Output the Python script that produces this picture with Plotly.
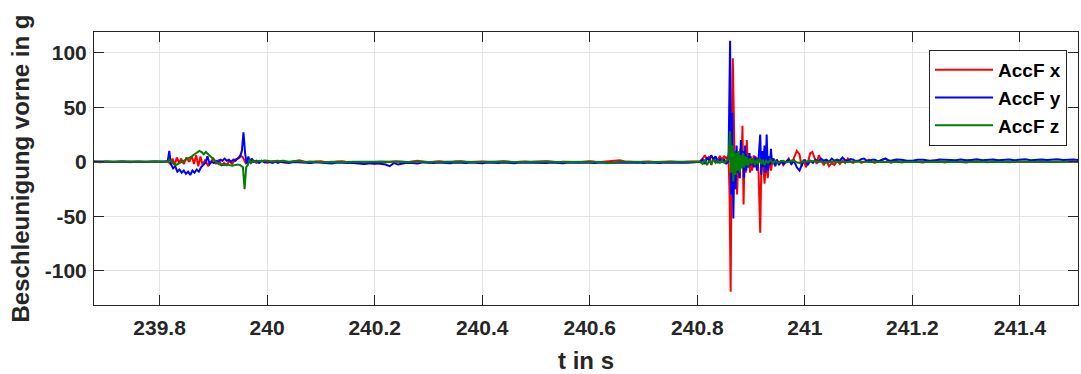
import plotly.graph_objects as go

# (time in s, acceleration in g) samples
ACC_X = [
    (239.678, 0.2), (239.69, -0.3), (239.70, 0.3), (239.715, -0.2), (239.73, 0.3), (239.745, -0.3),
    (239.76, 0.3), (239.775, -0.2), (239.79, 0.3), (239.805, -0.2), (239.815, 0.5),
    (239.820, -2), (239.824, 3), (239.828, -3), (239.832, 4), (239.836, -1), (239.840, 3),
    (239.845, -2), (239.850, 4), (239.855, 0), (239.860, 5), (239.864, -2), (239.868, 6),
    (239.872, -4), (239.876, 5), (239.880, -3), (239.885, 2), (239.890, -4), (239.895, 0),
    (239.900, 3), (239.905, -2), (239.910, 2), (239.915, -3), (239.920, -1), (239.925, -3),
    (239.930, 1), (239.935, -2), (239.940, 2), (239.945, 3), (239.950, 6), (239.955, 4),
    (239.960, -1), (239.965, 2), (239.970, -1), (239.975, 1), (239.980, -1), (239.990, 1),
    (240.00, -1), (240.01, 0.5), (240.02, 1), (240.03, -0.5), (240.04, -0.5), (240.05, 0.5),
    (240.06, 1.5), (240.07, 0.2), (240.08, -1), (240.09, 0.3), (240.10, 0.5), (240.11, -0.3),
    (240.12, -0.5), (240.13, 0.3), (240.14, 0.5), (240.15, -0.4), (240.16, -1), (240.17, -0.6),
    (240.18, -1.5), (240.19, -1.0), (240.20, -2), (240.21, -0.8), (240.22, -0.5), (240.23, 0.3),
    (240.24, 0.5), (240.25, -0.2), (240.26, -0.5), (240.27, 0.4), (240.28, 1), (240.29, 0.2),
    (240.30, -0.5), (240.31, 0.2), (240.32, 0.5), (240.33, -0.2), (240.34, -0.5), (240.35, 0.3),
    (240.36, 0.5), (240.37, -0.2), (240.38, -0.3), (240.39, 0.2), (240.40, 0.3), (240.41, -0.2),
    (240.42, -0.4), (240.43, 0.2), (240.44, 0.5), (240.45, 0.1), (240.46, -0.3), (240.47, 0.2),
    (240.48, 0.4), (240.49, -0.1), (240.50, -0.2), (240.51, 0.3), (240.52, 0.5), (240.53, -0.1),
    (240.54, -0.4), (240.55, 0.1), (240.56, 0.3), (240.57, -0.1), (240.58, -0.3), (240.59, 0.2),
    (240.60, 0.5), (240.61, 0.0), (240.62, -0.2), (240.63, 0.3), (240.64, 0.6), (240.656, 1.5),
    (240.665, 0.4), (240.675, 0.2), (240.69, -0.3), (240.70, 0.2), (240.71, 0.4), (240.72, -0.1),
    (240.73, -0.2), (240.74, 0.2), (240.75, 0.3), (240.76, -0.1), (240.77, -0.3), (240.78, 0.1),
    (240.79, 0.2), (240.800, 0),
    (240.805, 0.5), (240.810, 3), (240.814, 6), (240.818, 2), (240.822, 5), (240.826, -3),
    (240.830, 4), (240.834, 0), (240.838, 3), (240.842, 5), (240.846, 2), (240.850, 5),
    (240.854, 3), (240.858, 6), (240.860, -30), (240.862, -119), (240.864, 20), (240.866, 95),
    (240.868, 40), (240.870, -20), (240.872, 10), (240.874, -30), (240.876, 5), (240.878, -15),
    (240.880, 12), (240.882, -5), (240.884, 33), (240.886, -39), (240.888, 10), (240.890, -10),
    (240.892, 20), (240.894, -5), (240.896, 8), (240.898, -10), (240.900, 5), (240.902, -8),
    (240.905, 6), (240.908, -5), (240.911, 4), (240.914, -10), (240.917, -65), (240.919, -5),
    (240.922, 3), (240.925, -20), (240.928, 2), (240.931, -15), (240.934, 5), (240.937, -8),
    (240.940, 3), (240.944, -3), (240.948, 2), (240.952, -2), (240.956, 1), (240.960, -3),
    (240.965, 0), (240.970, 3), (240.975, -2), (240.980, 4), (240.985, 10), (240.990, 7),
    (240.994, -4), (240.998, 2), (241.002, -5), (241.006, 0), (241.010, 8), (241.014, 9),
    (241.018, 3), (241.022, -2), (241.026, 6), (241.030, 2), (241.035, -3), (241.040, 1),
    (241.045, -4), (241.050, -1), (241.055, -3), (241.060, 1), (241.065, -2), (241.070, 1),
    (241.075, -1), (241.080, 3), (241.085, 0), (241.090, -1), (241.095, 1), (241.100, 1),
    (241.105, -1), (241.110, 0), (241.115, 1), (241.120, 2), (241.125, 0), (241.130, -1),
    (241.135, 0.5), (241.140, 1), (241.145, 2), (241.150, 3), (241.155, 1), (241.160, -1),
    (241.165, 0), (241.170, 1), (241.175, 0), (241.180, -0.5), (241.19, 0.4), (241.200, 0.5),
    (241.21, -0.2), (241.220, -0.5), (241.23, 0.5), (241.240, 1.5), (241.25, 0.3), (241.260, -0.5),
    (241.27, 0.2), (241.280, 0.5), (241.29, -0.1), (241.300, -0.5), (241.31, 0.2), (241.320, 0.5),
    (241.33, 0.0), (241.340, -0.3), (241.35, 0.2), (241.360, 0.5), (241.37, 0.0), (241.380, -0.3),
    (241.39, 0.2), (241.400, 0.4), (241.41, 0.0), (241.420, -0.2), (241.43, 0.2), (241.440, 0.3),
    (241.45, 0.0), (241.460, 0), (241.47, 0.3), (241.480, 0.3), (241.495, 0.0), (241.510, 0),
]

ACC_Y = [
    (239.678, 0.3), (239.69, 0.1), (239.70, 0.4), (239.715, 0.0), (239.73, 0.3), (239.745, 0.1),
    (239.76, 0.4), (239.775, 0.0), (239.79, 0.3), (239.805, 0.1), (239.815, 0.5),
    (239.818, 10), (239.821, -2), (239.825, -6), (239.829, -4), (239.833, -9), (239.837, -7),
    (239.841, -10), (239.845, -8), (239.849, -11), (239.853, -9), (239.857, -12), (239.861, -8),
    (239.865, -10), (239.869, -7), (239.873, -9), (239.877, -5), (239.881, -3), (239.885, -1),
    (239.889, 5), (239.893, -2), (239.897, 0), (239.901, -1), (239.905, 1), (239.909, 0),
    (239.913, 2), (239.917, 1), (239.921, 3), (239.925, 1), (239.929, 2), (239.933, 0),
    (239.937, 2), (239.941, 1), (239.945, 3), (239.949, 4), (239.953, 10), (239.956, 27),
    (239.959, 8), (239.962, -2), (239.965, 5), (239.968, -1), (239.971, 3), (239.975, 0),
    (239.980, 1), (239.985, -1), (239.990, 1), (239.995, -0.5), (240.000, 0.5), (240.005, -0.5),
    (240.010, -1), (240.015, 0.2), (240.020, -1), (240.025, 0.3), (240.030, 0), (240.035, -0.6),
    (240.040, -1), (240.05, -0.2), (240.06, -0.5), (240.07, -1.2), (240.08, -1), (240.09, -0.3),
    (240.10, -0.5), (240.11, -1.2), (240.12, -1.5), (240.13, -0.6), (240.14, -0.5), (240.15, -1.0),
    (240.16, -1), (240.17, -1.6), (240.18, -2), (240.19, -1.2), (240.20, -1), (240.21, -1.8),
    (240.22, -2.5), (240.228, -4), (240.236, -1), (240.243, -2.5), (240.25, -2), (240.26, -0.8),
    (240.27, -1), (240.28, -1.5), (240.29, -0.5), (240.30, -0.8), (240.31, -1), (240.32, -0.5),
    (240.33, -0.9), (240.34, -1.2), (240.35, -0.6), (240.36, -0.8), (240.37, -1.1), (240.38, -0.5),
    (240.39, -0.9), (240.40, -1.2), (240.41, -0.7), (240.42, -0.9), (240.43, -1.1), (240.44, -0.6),
    (240.45, -0.9), (240.46, -1.2), (240.47, -0.6), (240.48, -0.8), (240.49, -1.0), (240.50, -0.6),
    (240.51, -0.9), (240.52, -1.1), (240.53, -0.7), (240.54, -0.9), (240.55, -1.2), (240.56, -0.6),
    (240.57, -0.8), (240.58, -1.1), (240.59, -0.7), (240.60, -0.9), (240.61, -1.0), (240.62, -0.6),
    (240.63, -0.9), (240.64, -1.2), (240.65, -0.8), (240.66, -0.6), (240.67, -1.0), (240.68, -0.8),
    (240.69, -0.6), (240.70, -1.0), (240.71, -0.7), (240.72, -0.9), (240.73, -1.1), (240.74, -0.6),
    (240.75, -0.8), (240.76, -1.0), (240.77, -0.7), (240.78, -0.9), (240.79, -0.6), (240.800, 0),
    (240.805, 0), (240.810, 2), (240.814, -2), (240.818, 4), (240.822, 1), (240.826, 6),
    (240.830, 2), (240.834, 5), (240.838, -1), (240.842, 3), (240.846, 0), (240.850, 2),
    (240.854, -2), (240.858, 1), (240.861, 111), (240.863, -30), (240.865, 45), (240.867, -52),
    (240.869, 10), (240.871, -25), (240.873, 15), (240.875, -10), (240.877, 5), (240.879, -15),
    (240.881, 20), (240.883, -5), (240.885, 10), (240.887, -15), (240.889, 15), (240.891, -8),
    (240.893, 5), (240.895, -5), (240.897, 8), (240.899, -3), (240.902, 2), (240.905, -5),
    (240.908, 5), (240.911, -8), (240.914, 3), (240.917, 25), (240.919, -12), (240.921, 10),
    (240.923, -5), (240.925, 15), (240.927, -10), (240.929, 25), (240.931, -8), (240.933, 5),
    (240.935, -3), (240.937, 12), (240.939, -2), (240.942, 3), (240.945, -4), (240.948, 2),
    (240.952, -3), (240.956, 1), (240.960, -2), (240.965, 0), (240.970, 2), (240.975, -2),
    (240.980, 1), (240.985, -5), (240.990, -8), (240.995, -2), (241.000, 2), (241.005, -3),
    (241.010, 1), (241.015, -1), (241.020, 2), (241.025, 0), (241.030, 3), (241.035, 1),
    (241.040, 2), (241.045, 0), (241.050, 3), (241.055, 1), (241.060, 2), (241.065, 1),
    (241.070, 4), (241.075, 1.5), (241.080, 1), (241.085, 2.5), (241.090, 2), (241.095, 0.5),
    (241.100, 1), (241.105, 2.5), (241.110, 3), (241.115, 1), (241.120, 1), (241.125, 2),
    (241.130, 2), (241.135, 0.8), (241.140, 1), (241.145, 2.2), (241.150, 3), (241.155, 1.5),
    (241.160, 1), (241.17, 2.2), (241.180, 2), (241.19, 1.0), (241.200, 1), (241.21, 2.0),
    (241.220, 2), (241.23, 1.2), (241.240, 1), (241.25, 2.2), (241.260, 2), (241.27, 1.2),
    (241.280, 1.5), (241.29, 2.2), (241.30, 1.4), (241.31, 1.8), (241.32, 2.3), (241.33, 1.4),
    (241.34, 1.7), (241.35, 2.2), (241.36, 1.5), (241.37, 1.8), (241.38, 2.2), (241.39, 1.5),
    (241.40, 1.9), (241.41, 2.3), (241.42, 1.5), (241.43, 1.8), (241.44, 2.2), (241.45, 1.6),
    (241.46, 1.9), (241.47, 2.3), (241.48, 1.6), (241.49, 1.9), (241.50, 2.1), (241.51, 1.7),
]

ACC_Z = [
    (239.678, 0.0), (239.69, 0.2), (239.70, -0.1), (239.715, 0.2), (239.73, 0.0), (239.745, 0.2),
    (239.76, -0.1), (239.775, 0.2), (239.79, 0.0), (239.805, 0.2), (239.815, 0),
    (239.818, 2), (239.822, 0), (239.826, -2), (239.830, -3), (239.834, -2), (239.838, -1),
    (239.842, 0), (239.846, 1), (239.850, 2), (239.855, 3), (239.860, 5), (239.865, 7),
    (239.870, 9), (239.874, 10), (239.878, 9), (239.882, 7), (239.886, 9), (239.890, 7),
    (239.895, 5), (239.900, 2), (239.905, 0), (239.910, -2), (239.915, -3), (239.920, -3),
    (239.925, -2.5), (239.930, -3), (239.935, -3.5), (239.940, -3), (239.945, -2.5), (239.950, -3),
    (239.955, -5), (239.958, -25), (239.961, -5), (239.964, -3), (239.967, 2), (239.970, -1),
    (239.975, 1), (239.980, 0), (239.985, 1), (239.990, 0.5), (239.995, 1.2), (240.00, 1),
    (240.01, 0.3), (240.02, 0.5), (240.03, 1.0), (240.04, 0), (240.05, 0.6), (240.06, 0.5),
    (240.07, -0.2), (240.08, 0.3), (240.09, 0.0), (240.10, 0.4), (240.11, -0.3), (240.12, 0.2),
    (240.13, 0.0), (240.14, 0.3), (240.15, -0.2), (240.16, 0.2), (240.17, 0.0), (240.18, 0.3),
    (240.19, -0.2), (240.20, 0.1), (240.21, 0.3), (240.22, -0.1), (240.23, 0.2), (240.24, 0.0),
    (240.25, 0.3), (240.26, -0.2), (240.27, 0.2), (240.28, 0.0), (240.29, 0.3), (240.30, -0.1),
    (240.32, 0.2), (240.34, 0.0), (240.36, 0.3), (240.38, -0.1), (240.40, 0.2), (240.42, 0.0),
    (240.44, 0.3), (240.46, -0.1), (240.48, 0.2), (240.50, 0.0), (240.52, 0.3), (240.54, -0.1),
    (240.56, 0.2), (240.58, 0.0), (240.60, 0.2), (240.62, -0.2), (240.635, -1.0), (240.645, -0.8),
    (240.655, 0.1), (240.67, 0.2), (240.69, 0.0), (240.71, 0.3), (240.73, -0.1), (240.75, 0.2),
    (240.77, 0.0), (240.79, 0.2), (240.800, 0),
    (240.805, 0), (240.810, -2), (240.814, 2), (240.818, -3), (240.822, 1), (240.826, -2),
    (240.830, 2), (240.834, -1), (240.838, 1), (240.842, -1), (240.846, 1), (240.850, -1),
    (240.854, 1), (240.858, 2), (240.861, 28), (240.863, -10), (240.865, 15), (240.867, -18),
    (240.869, 10), (240.871, -12), (240.873, 8), (240.875, -8), (240.877, 10), (240.879, -10),
    (240.881, 6), (240.883, -6), (240.885, 8), (240.887, -5), (240.889, 5), (240.891, -3),
    (240.893, 4), (240.895, -4), (240.898, 3), (240.901, -2), (240.904, 3), (240.907, -3),
    (240.910, 2), (240.913, -2), (240.916, 3), (240.919, -2), (240.922, 2), (240.925, -3),
    (240.928, 1), (240.932, -1), (240.936, 2), (240.940, -1), (240.945, 1), (240.950, -1),
    (240.955, 0.5), (240.960, 1), (240.965, -0.5), (240.970, 0), (240.975, 1.2), (240.980, 1),
    (240.985, -0.5), (240.990, -1), (240.995, 0.3), (241.00, 0), (241.01, 0.8), (241.02, 0.5),
    (241.03, -0.3), (241.04, -0.5), (241.05, 0.3), (241.06, 0.0), (241.07, 0.4), (241.08, -0.2),
    (241.09, 0.3), (241.10, 0.0), (241.11, 0.4), (241.12, -0.2), (241.13, 0.2), (241.14, 0.0),
    (241.15, 0.3), (241.16, -0.1), (241.17, 0.2), (241.18, 0.0), (241.20, 0.2), (241.22, -0.1),
    (241.24, 0.2), (241.26, 0.0), (241.28, 0.2), (241.30, -0.1), (241.32, 0.2), (241.34, 0.0),
    (241.36, 0.2), (241.38, -0.1), (241.40, 0.2), (241.42, 0.0), (241.44, 0.2), (241.46, -0.1),
    (241.48, 0.2), (241.51, 0.0),
]

t_x, acc_x = zip(*ACC_X)
t_y, acc_y = zip(*ACC_Y)
t_z, acc_z = zip(*ACC_Z)

SERIES_NAMES = ["AccF x", "AccF y", "AccF z"]
SERIES_COLORS = ["#ff0000", "#0000ff", "#008000"]

X_TICKS = [239.8, 240.0, 240.2, 240.4, 240.6, 240.8, 241.0, 241.2, 241.4]
X_TICK_LABELS = ["239.8", "240", "240.2", "240.4", "240.6", "240.8", "241", "241.2", "241.4"]
Y_TICKS = [-100, -50, 0, 50, 100]
Y_TICK_LABELS = ["-100", "-50", "0", "50", "100"]

FONT = "Liberation Sans, Arial, sans-serif"
AXIS_COLOR = "#262626"

fig = go.Figure()
for tt, vv, name, color in zip((t_x, t_y, t_z), (acc_x, acc_y, acc_z), SERIES_NAMES, SERIES_COLORS):
    fig.add_trace(go.Scatter(x=tt, y=vv, mode="lines", name=name,
                             line=dict(color=color, width=2)))

axis_common = dict(
    showline=True, linecolor=AXIS_COLOR, linewidth=1, mirror="ticks",
    ticks="inside", ticklen=10, tickcolor=AXIS_COLOR, tickwidth=1,
    showgrid=True, gridcolor="#e3e3e3", gridwidth=1, zeroline=False,
    tickfont=dict(family=FONT, size=21, color=AXIS_COLOR, weight="bold"),
)

fig.update_layout(
    width=1081, height=374,
    margin=dict(l=94, r=3, t=32, b=69),
    paper_bgcolor="white", plot_bgcolor="white",
    font=dict(family=FONT, color=AXIS_COLOR),
    xaxis=dict(range=[239.678, 241.508], tickvals=X_TICKS, ticktext=X_TICK_LABELS,
               ticklabelstandoff=4,
               title=dict(text="t in s", standoff=15,
                          font=dict(family=FONT, size=24, color=AXIS_COLOR, weight="bold")),
               **axis_common),
    yaxis=dict(range=[-131.2, 119], tickvals=Y_TICKS, ticktext=Y_TICK_LABELS,
               ticklabelstandoff=2,
               title=dict(text="Beschleunigung vorne in g", standoff=8,
                          font=dict(family=FONT, size=24, color=AXIS_COLOR, weight="bold")),
               **axis_common),
    legend=dict(x=0.8486, y=0.934, xanchor="left", yanchor="top",
                bgcolor="white", bordercolor=AXIS_COLOR, borderwidth=1,
                font=dict(family=FONT, size=19, color="black", weight="bold"),
                tracegroupgap=0, itemwidth=58),
    showlegend=True,
)

fig.write_html("out.html")
